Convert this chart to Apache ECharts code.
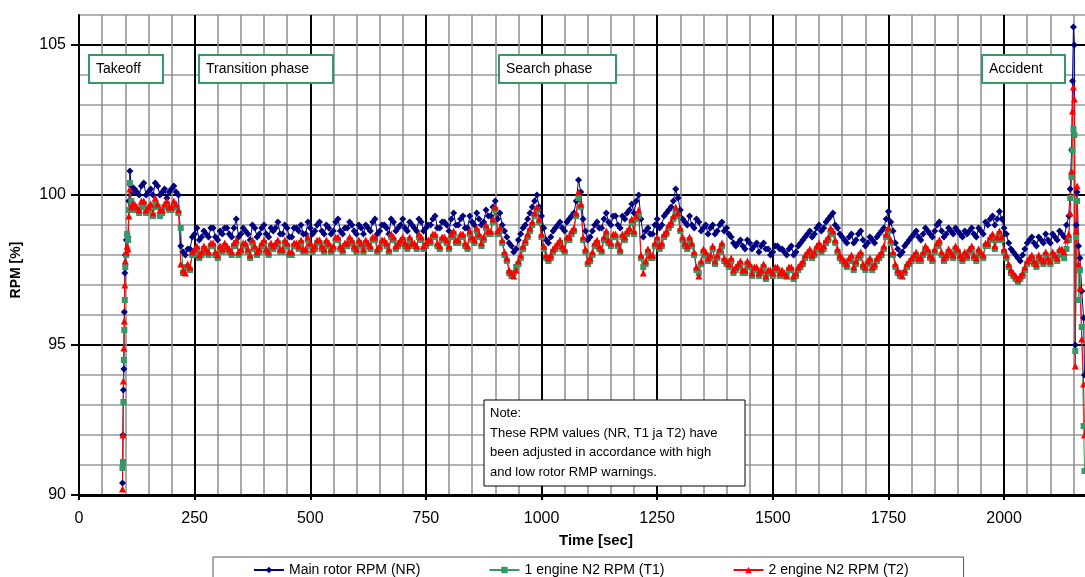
<!DOCTYPE html>
<html>
<head>
<meta charset="utf-8">
<script src="https://cdn.jsdelivr.net/npm/echarts@6/dist/echarts.min.js"></script>
<style>
  html, body { margin: 0; padding: 0; background: #fff; }
  #chart { width: 1085px; height: 577px; }
</style>
</head>
<body>
<div id="chart"></div>
<script>
// sample times [sec]
var times = [
  94, 95, 96, 97, 98, 99, 100, 102, 104, 106, 108, 110, 113, 116,
  120, 130, 140, 150, 160, 170, 180, 190, 200, 210,
  220, 230, 240, 250, 260, 270, 280, 290, 300, 310,
  320, 330, 340, 350, 360, 370, 380, 390, 400, 410,
  420, 430, 440, 450, 460, 470, 480, 490, 500, 510,
  520, 530, 540, 550, 560, 570, 580, 590, 600, 610,
  620, 630, 640, 650, 660, 670, 680, 690, 700, 710,
  720, 730, 740, 750, 760, 770, 780, 790, 800, 810,
  820, 830, 840, 850, 860, 870, 880, 890, 900, 910,
  920, 930, 940, 950, 960, 970, 980, 990, 1000, 1010,
  1020, 1030, 1040, 1050, 1060, 1070, 1080, 1090, 1100, 1110,
  1120, 1130, 1140, 1150, 1160, 1170, 1180, 1190, 1200, 1210,
  1220, 1230, 1240, 1250, 1260, 1270, 1280, 1290, 1300, 1310,
  1320, 1330, 1340, 1350, 1360, 1370, 1380, 1390, 1400, 1410,
  1420, 1430, 1440, 1450, 1460, 1470, 1480, 1490, 1500, 1510,
  1520, 1530, 1540, 1550, 1560, 1570, 1580, 1590, 1600, 1610,
  1620, 1630, 1640, 1650, 1660, 1670, 1680, 1690, 1700, 1710,
  1720, 1730, 1740, 1750, 1760, 1770, 1780, 1790, 1800, 1810,
  1820, 1830, 1840, 1850, 1860, 1870, 1880, 1890, 1900, 1910,
  1920, 1930, 1940, 1950, 1960, 1970, 1980, 1990, 2000, 2010,
  2020, 2030, 2040, 2050, 2060, 2070, 2080, 2090, 2100, 2110,
  2120, 2130,
  2135, 2140, 2143, 2146, 2148, 2150, 2152, 2154, 2156, 2158, 2161, 2164, 2168, 2172, 2174
];

// Main rotor RPM (NR)
var rpmNR = [
  90.4, 92.0, 93.5, 94.2, 96.1, 97.4, 98.0, 98.5, 98.7, 98.6, 99.8, 100.8, 100.3, 100.1,
  100.2, 100.0, 100.4, 100.1, 100.0, 100.3, 100.1, 99.9, 100.2, 100.1,
  98.3, 98.0, 98.2, 98.7, 98.5, 98.8, 98.6, 98.9, 98.5, 98.7,
  98.9, 98.6, 99.2, 98.7, 98.8, 98.5, 98.9, 98.7, 99.0, 98.6,
  98.8, 99.1, 98.7, 98.9, 98.6, 98.9, 99.0, 98.7, 98.9, 98.8,
  99.1, 98.7, 98.9, 98.8, 99.2, 98.7, 98.9, 99.0, 98.7, 98.9,
  99.0, 98.8, 99.2, 98.8, 99.0, 98.7, 99.1, 98.9, 99.2, 98.8,
  99.0, 98.8, 99.1, 98.9, 99.0, 99.3, 98.9, 99.1, 98.8, 99.4,
  99.0, 99.3, 98.9, 99.1, 99.4, 99.0, 99.5, 99.3, 99.8, 99.4,
  98.8, 98.4, 98.1, 98.5, 98.9, 99.2, 99.6, 100.0, 99.3, 98.5,
  98.6, 98.9, 99.1, 98.8, 99.2, 99.4, 100.5, 99.2, 98.5, 98.8,
  99.1, 98.9, 99.4, 99.0, 99.3, 98.9, 99.2, 99.5, 99.4, 100.0,
  98.6, 98.9, 98.7, 99.2, 99.0, 99.4, 99.6, 100.2, 99.5, 99.1,
  99.3, 98.9, 99.1, 98.9, 98.7, 99.0, 98.8, 99.1, 98.9, 98.6,
  98.3, 98.5, 98.2, 98.4, 98.3, 98.1, 98.4, 98.2, 98.1, 98.3,
  98.2, 98.0, 98.3, 98.1, 98.4, 98.6, 98.8, 98.7, 99.0, 98.9,
  99.2, 99.4, 98.9, 98.6, 98.4, 98.7, 98.5, 98.8, 98.3, 98.6,
  98.4, 98.7, 98.9, 99.45, 98.8, 98.2, 98.1, 98.4, 98.6, 98.8,
  98.5, 98.9, 98.7, 98.8, 99.1, 98.6, 98.9, 98.7, 98.8, 98.6,
  98.7, 98.9, 98.6, 98.8, 99.1, 99.2, 99.0, 99.45, 98.9, 98.4,
  98.1, 97.9, 98.0, 98.4, 98.6, 98.3, 98.5, 98.7, 98.4, 98.6,
  98.8, 98.6,
  99.0, 99.3, 100.2, 101.5, 103.8, 105.6, 105.0, 95.0, 99.0, 100.1, 98.3, 97.9, 96.8, 95.9, 94.0
];

// 1 engine N2 RPM (T1)
var rpmT1 = [
  90.9, 91.1, 93.1, 94.5, 95.5, 96.5, 97.6, 98.0, 98.7, 98.5, 99.5, 100.4, 99.8, 99.5,
  99.6, 99.4, 99.7, 99.5, 99.3, 99.6, 99.4, 99.7, 99.5, 99.6,
  98.9, 97.6, 97.5, 98.0, 97.9, 98.2, 98.0, 98.3, 97.9, 98.1,
  98.2, 98.0, 98.4, 98.1, 98.3, 97.9, 98.2, 98.1, 98.4, 98.0,
  98.2, 98.4, 98.1, 98.3, 98.0, 98.3, 98.4, 98.1, 98.3, 98.2,
  98.4, 98.1, 98.3, 98.2, 98.5, 98.1, 98.3, 98.4, 98.1, 98.3,
  98.4, 98.2, 98.5, 98.2, 98.4, 98.1, 98.5, 98.3, 98.5, 98.2,
  98.3, 98.2, 98.5, 98.3, 98.4, 98.6, 98.2, 98.5, 98.2, 98.7,
  98.4, 98.6, 98.2, 98.5, 98.8, 98.3, 98.9, 98.7, 99.5, 98.8,
  98.0, 97.4, 97.4, 97.7, 98.2, 98.6, 99.0, 99.5, 98.6, 97.9,
  97.9, 98.2, 98.4, 98.1, 98.5, 98.8, 99.9, 98.5, 97.7, 98.0,
  98.4, 98.1, 98.7, 98.3, 98.6, 98.1, 98.5, 98.8, 98.7, 99.3,
  97.6, 98.1, 97.9, 98.5, 98.3, 98.7, 99.0, 99.4, 98.8, 98.3,
  98.5, 98.0, 97.4, 98.1, 97.8, 98.2, 97.9, 98.3, 97.7, 97.8,
  97.5, 97.7, 97.4, 97.6, 97.5, 97.3, 97.6, 97.4, 97.3, 97.5,
  97.4, 97.3, 97.5, 97.3, 97.6, 97.9, 98.1, 98.0, 98.3, 98.2,
  98.5, 98.7, 98.1, 97.8, 97.6, 97.9, 97.7, 98.0, 97.5, 97.8,
  97.6, 97.9, 98.2, 98.8, 98.0, 97.4, 97.4, 97.6, 97.8, 98.0,
  97.8, 98.2, 97.9, 98.1, 98.4, 97.8, 98.1, 97.9, 98.1, 97.8,
  97.9, 98.2, 97.8, 98.0, 98.3, 98.5, 98.2, 98.7, 98.1, 97.6,
  97.3, 97.1, 97.3, 97.7, 97.9, 97.6, 97.8, 98.0, 97.7, 97.9,
  98.1, 97.9,
  98.2, 98.5, 99.9, 100.6, 101.5, 102.2, 102.0, 94.8, 98.6, 99.8, 96.5, 97.5, 95.6, 92.3, 90.8
];

// 2 engine N2 RPM (T2)
var rpmT2 = [
  90.2, 92.0, 93.8, 94.9, 95.8, 97.0, 97.8, 98.1, 98.3, 98.2, 99.3, 100.2, 99.6, 99.7,
  99.7, 99.5, 99.8, 99.6, 99.4, 99.7, 99.5, 99.8, 99.6, 99.7,
  97.7, 97.4, 97.6, 98.2, 98.0, 98.3, 98.1, 98.4, 98.0, 98.2,
  98.3, 98.1, 98.5, 98.2, 98.4, 98.0, 98.3, 98.2, 98.5, 98.1,
  98.3, 98.5, 98.2, 98.4, 98.1, 98.4, 98.5, 98.2, 98.4, 98.3,
  98.5, 98.2, 98.4, 98.3, 98.6, 98.2, 98.4, 98.5, 98.2, 98.4,
  98.5, 98.3, 98.6, 98.3, 98.5, 98.2, 98.6, 98.4, 98.6, 98.3,
  98.4, 98.3, 98.6, 98.4, 98.5, 98.7, 98.3, 98.6, 98.3, 98.8,
  98.5, 98.7, 98.3, 98.6, 98.9, 98.4, 99.0, 98.8, 99.6, 98.9,
  98.1, 97.5, 97.3, 97.8, 98.3, 98.7, 99.1, 99.6, 98.7, 98.0,
  98.0, 98.3, 98.5, 98.2, 98.6, 98.9, 100.1, 98.6, 97.8, 98.1,
  98.5, 98.2, 98.8, 98.4, 98.7, 98.2, 98.6, 98.9, 98.8, 99.5,
  97.4, 98.2, 98.0, 98.6, 98.4, 98.8, 99.1, 99.6, 98.9, 98.4,
  98.6, 98.1, 97.3, 98.2, 97.9, 98.3, 98.0, 98.4, 97.8, 97.9,
  97.6, 97.8, 97.5, 97.7, 97.6, 97.4, 97.7, 97.5, 97.4, 97.6,
  97.5, 97.3, 97.6, 97.4, 97.7, 98.0, 98.2, 98.1, 98.4, 98.3,
  98.6, 98.8, 98.2, 97.9, 97.7, 98.0, 97.8, 98.1, 97.6, 97.9,
  97.7, 98.0, 98.3, 98.9, 98.1, 97.5, 97.3, 97.7, 97.9, 98.1,
  97.9, 98.3, 98.0, 98.2, 98.5, 97.9, 98.2, 98.0, 98.2, 97.9,
  98.0, 98.3, 97.9, 98.1, 98.4, 98.6, 98.3, 98.8, 98.2, 97.7,
  97.4, 97.2, 97.4, 97.8, 98.0, 97.7, 97.9, 98.1, 97.8, 98.0,
  98.2, 98.1,
  98.5, 98.7, 99.4, 100.8, 102.8, 103.6, 103.2, 94.3, 98.8, 100.3, 97.7, 96.9, 95.2, 93.7, 92.0
];

// in-between samples, 5 s after each regular one
var midTimes = [
  125, 135, 145, 155, 165, 175, 185, 195, 205, 215,
  225, 235, 245, 255, 265, 275, 285, 295, 305, 315,
  325, 335, 345, 355, 365, 375, 385, 395, 405, 415,
  425, 435, 445, 455, 465, 475, 485, 495, 505, 515,
  525, 535, 545, 555, 565, 575, 585, 595, 605, 615,
  625, 635, 645, 655, 665, 675, 685, 695, 705, 715,
  725, 735, 745, 755, 765, 775, 785, 795, 805, 815,
  825, 835, 845, 855, 865, 875, 885, 895, 905, 915,
  925, 935, 945, 955, 965, 975, 985, 995, 1005, 1015,
  1025, 1035, 1045, 1055, 1065, 1075, 1085, 1095, 1105, 1115,
  1125, 1135, 1145, 1155, 1165, 1175, 1185, 1195, 1205, 1215,
  1225, 1235, 1245, 1255, 1265, 1275, 1285, 1295, 1305, 1315,
  1325, 1335, 1345, 1355, 1365, 1375, 1385, 1395, 1405, 1415,
  1425, 1435, 1445, 1455, 1465, 1475, 1485, 1495, 1505, 1515,
  1525, 1535, 1545, 1555, 1565, 1575, 1585, 1595, 1605, 1615,
  1625, 1635, 1645, 1655, 1665, 1675, 1685, 1695, 1705, 1715,
  1725, 1735, 1745, 1755, 1765, 1775, 1785, 1795, 1805, 1815,
  1825, 1835, 1845, 1855, 1865, 1875, 1885, 1895, 1905, 1915,
  1925, 1935, 1945, 1955, 1965, 1975, 1985, 1995, 2005, 2015,
  2025, 2035, 2045, 2055, 2065, 2075, 2085, 2095, 2105, 2115,
  2125
];

var midNR = [
  100.1, 100.3, 100.0, 100.2, 100.4, 100.0, 100.2, 100.1, 100.3, 100.0,
  98.1, 98.2, 98.6, 98.9, 98.6, 98.7, 98.9, 98.6, 98.8, 98.9,
  98.7, 98.9, 98.6, 98.9, 98.7, 99.0, 98.6, 98.9, 98.7, 98.9,
  98.9, 98.7, 99.0, 98.6, 98.9, 98.8, 98.7, 99.1, 98.7, 99.0,
  98.8, 99.0, 98.7, 99.1, 98.8, 98.9, 99.1, 98.8, 99.0, 98.7,
  98.9, 99.1, 98.7, 99.0, 98.9, 99.2, 98.8, 99.0, 98.9, 99.1,
  98.9, 99.2, 98.8, 99.0, 99.2, 98.9, 99.1, 99.0, 99.2, 99.0,
  99.2, 98.9, 99.3, 99.0, 99.2, 99.1, 99.3, 99.6, 99.2, 99.0,
  98.6, 98.3, 98.2, 98.7, 99.0, 99.4, 99.8, 99.6, 98.9, 98.4,
  98.8, 99.0, 98.9, 99.1, 99.3, 99.8, 100.1, 98.8, 98.6, 99.0,
  98.9, 99.2, 99.1, 99.3, 99.0, 99.3, 99.4, 99.7, 99.8, 99.2,
  98.8, 98.7, 99.0, 98.9, 99.3, 99.5, 99.8, 99.9, 99.2, 99.0,
  99.0, 99.2, 98.8, 99.0, 98.9, 98.7, 99.0, 98.8, 98.7, 98.4,
  98.4, 98.3, 98.5, 98.2, 98.4, 98.3, 98.2, 98.0, 98.3, 98.2,
  98.1, 98.2, 98.0, 98.3, 98.5, 98.7, 98.6, 98.9, 98.8, 99.1,
  99.3, 99.0, 98.7, 98.5, 98.6, 98.4, 98.7, 98.5, 98.4, 98.5,
  98.6, 98.8, 99.2, 99.1, 98.4, 98.0, 98.3, 98.5, 98.7, 98.6,
  98.7, 98.8, 98.6, 99.0, 98.8, 98.7, 98.8, 98.9, 98.7, 98.8,
  98.8, 98.7, 98.9, 98.7, 99.0, 99.3, 99.2, 99.2, 98.7, 98.2,
  98.0, 97.8, 98.2, 98.5, 98.4, 98.6, 98.4, 98.5, 98.7, 98.5,
  98.7
];

var midT1 = [
  99.5, 99.6, 99.4, 99.6, 99.7, 99.3, 99.6, 99.5, 99.6, 99.4,
  97.4, 97.6, 98.0, 98.2, 98.0, 98.1, 98.3, 98.0, 98.2, 98.3,
  98.1, 98.3, 98.0, 98.3, 98.1, 98.4, 98.0, 98.3, 98.1, 98.3,
  98.3, 98.1, 98.4, 98.0, 98.3, 98.2, 98.1, 98.5, 98.1, 98.4,
  98.2, 98.4, 98.1, 98.5, 98.2, 98.3, 98.5, 98.2, 98.4, 98.1,
  98.3, 98.5, 98.1, 98.4, 98.3, 98.6, 98.2, 98.4, 98.3, 98.5,
  98.3, 98.6, 98.2, 98.4, 98.6, 98.3, 98.5, 98.4, 98.6, 98.4,
  98.6, 98.3, 98.7, 98.4, 98.6, 98.5, 98.7, 99.1, 98.7, 98.4,
  97.8, 97.3, 97.6, 97.9, 98.4, 98.8, 99.3, 99.1, 98.2, 97.8,
  98.1, 98.3, 98.2, 98.5, 98.7, 99.3, 99.6, 98.1, 97.8, 98.3,
  98.2, 98.5, 98.4, 98.6, 98.3, 98.6, 98.7, 99.1, 99.2, 97.9,
  97.7, 97.9, 98.3, 98.2, 98.6, 98.9, 99.2, 99.3, 98.5, 98.2,
  98.3, 97.5, 97.7, 98.0, 97.9, 97.7, 98.1, 97.8, 97.6, 97.4,
  97.6, 97.4, 97.7, 97.3, 97.5, 97.4, 97.2, 97.4, 97.5, 97.3,
  97.3, 97.5, 97.2, 97.5, 97.7, 98.0, 97.9, 98.2, 98.1, 98.4,
  98.8, 98.4, 97.9, 97.7, 97.8, 97.5, 97.9, 97.6, 97.7, 97.5,
  97.8, 98.0, 98.6, 98.4, 97.6, 97.3, 97.4, 97.7, 97.9, 97.8,
  98.0, 98.1, 97.8, 98.3, 98.0, 97.9, 98.0, 98.2, 97.9, 98.0,
  98.1, 97.9, 98.1, 97.9, 98.3, 98.6, 98.5, 98.5, 97.9, 97.4,
  97.2, 97.2, 97.5, 97.8, 97.7, 97.9, 97.7, 97.8, 98.0, 97.8,
  98.0
];

var midT2 = [
  99.6, 99.8, 99.5, 99.7, 99.9, 99.5, 99.7, 99.6, 99.8, 99.5,
  97.5, 97.7, 98.1, 98.3, 98.1, 98.2, 98.4, 98.1, 98.3, 98.4,
  98.2, 98.4, 98.1, 98.4, 98.2, 98.5, 98.1, 98.4, 98.2, 98.4,
  98.4, 98.2, 98.5, 98.1, 98.4, 98.3, 98.2, 98.6, 98.2, 98.5,
  98.3, 98.5, 98.2, 98.6, 98.3, 98.4, 98.6, 98.3, 98.5, 98.2,
  98.4, 98.6, 98.2, 98.5, 98.4, 98.7, 98.3, 98.5, 98.4, 98.6,
  98.4, 98.7, 98.3, 98.5, 98.7, 98.4, 98.6, 98.5, 98.7, 98.5,
  98.7, 98.4, 98.8, 98.5, 98.7, 98.6, 98.8, 99.2, 98.8, 98.5,
  97.9, 97.4, 97.5, 98.0, 98.5, 98.9, 99.4, 99.2, 98.3, 97.9,
  98.2, 98.4, 98.3, 98.6, 98.8, 99.4, 99.7, 98.2, 97.9, 98.4,
  98.3, 98.6, 98.5, 98.7, 98.4, 98.7, 98.8, 99.2, 99.3, 98.0,
  97.8, 98.0, 98.4, 98.3, 98.7, 99.0, 99.3, 99.4, 98.6, 98.3,
  98.4, 97.6, 97.8, 98.1, 98.0, 97.8, 98.2, 97.9, 97.7, 97.5,
  97.7, 97.5, 97.8, 97.4, 97.6, 97.5, 97.3, 97.5, 97.6, 97.4,
  97.4, 97.6, 97.3, 97.6, 97.8, 98.1, 98.0, 98.3, 98.2, 98.5,
  98.9, 98.5, 98.0, 97.8, 97.9, 97.6, 98.0, 97.7, 97.8, 97.6,
  97.9, 98.1, 98.7, 98.5, 97.7, 97.4, 97.5, 97.8, 98.0, 97.9,
  98.1, 98.2, 97.9, 98.4, 98.1, 98.0, 98.1, 98.3, 98.0, 98.1,
  98.2, 98.0, 98.2, 98.0, 98.4, 98.7, 98.6, 98.6, 98.0, 97.5,
  97.3, 97.3, 97.6, 97.9, 97.8, 98.0, 97.8, 97.9, 98.1, 97.9,
  98.2
];

var seriesNames = ['Main rotor RPM (NR)', '1 engine N2 RPM (T1)', '2 engine N2 RPM (T2)'];
var phaseLabels = ['Takeoff', 'Transition phase', 'Search phase', 'Accident'];
var noteLines = [
  'Note:',
  'These RPM values (NR, T1 ja T2) have',
  'been adjusted in accordance with high',
  'and low rotor RMP warnings.'
];

(function () {
  var navy = '#000080';
  var green = '#339966';
  var red = '#ff0000';
  var font = '"Liberation Sans", Arial, sans-serif';

  // merge regular and in-between samples, ordered by time
  function pairs(vals, mids) {
    var out = [];
    for (var i = 0; i < times.length; i++) out.push([times[i], vals[i]]);
    for (var j = 0; j < midTimes.length; j++) out.push([midTimes[j], mids[j]]);
    out.sort(function (a, b) { return a[0] - b[0]; });
    return out;
  }

  function phaseBox(x, w, label) {
    return [
      { type: 'rect', z: 100, shape: { x: x, y: 55, width: w, height: 28 },
        style: { fill: '#fff', stroke: green, lineWidth: 2 } },
      { type: 'text', z: 101, x: x + 7, y: 69,
        style: { text: label, font: '14px ' + font, fill: '#000', verticalAlign: 'middle' } }
    ];
  }

  var graphics = []
    .concat(phaseBox(89, 74, phaseLabels[0]))
    .concat(phaseBox(199, 134, phaseLabels[1]))
    .concat(phaseBox(499, 117, phaseLabels[2]))
    .concat(phaseBox(982, 83, phaseLabels[3]));

  graphics.push({ type: 'rect', z: 100, shape: { x: 484, y: 400, width: 261, height: 86 },
    style: { fill: '#fff', stroke: '#000', lineWidth: 1 } });
  graphics.push({ type: 'text', z: 101, x: 490, y: 404,
    style: { text: noteLines.join('\n'), font: '13px ' + font, lineHeight: 19.5, fill: '#000' } });

  var chart = echarts.init(document.getElementById('chart'), null, { renderer: 'canvas' });
  chart.setOption({
    animation: false,
    backgroundColor: '#fff',
    color: [navy, green, red],
    grid: { left: 79, right: 0, top: 15, bottom: 82, outerBoundsMode: 'none' },
    legend: {
      left: 213, top: 557,
      padding: [6, 55, 6, 40],
      itemGap: 68, itemWidth: 30, itemHeight: 8,
      borderColor: '#555', borderWidth: 1,
      textStyle: { color: '#000', fontSize: 14, fontFamily: font },
      data: seriesNames
    },
    xAxis: [
      { // minor grid
        type: 'value', position: 'top', min: 0, max: 2175, interval: 50,
        axisLine: { show: false }, axisTick: { show: false }, axisLabel: { show: false },
        splitLine: { show: true, showMaxLine: false, lineStyle: { color: '#8c8c8c', width: 1.5 } }
      },
      {
        type: 'value', position: 'bottom', min: 0, max: 2175, interval: 250,
        name: 'Time [sec]', nameLocation: 'middle', nameGap: 38,
        nameTextStyle: { fontSize: 15, fontWeight: 'bold', color: '#000', fontFamily: font, padding: [0, 0, 0, 28] },
        axisLine: { show: true, onZero: false, lineStyle: { color: '#000', width: 3 } },
        axisTick: { show: true, length: 5, lineStyle: { color: '#000', width: 2 } },
        axisLabel: { color: '#000', fontSize: 16, fontFamily: font, margin: 16, showMaxLabel: false,
          formatter: function (v) { return String(v); } },
        splitLine: { show: true, showMaxLine: false, lineStyle: { color: '#000', width: 2 } }
      }
    ],
    yAxis: [
      {
        type: 'value', position: 'right', min: 90, max: 106, interval: 1,
        axisLine: { show: false }, axisTick: { show: false }, axisLabel: { show: false },
        splitLine: { show: true, lineStyle: { color: '#9a9a9a', width: 1.5 } }
      },
      {
        type: 'value', position: 'left', min: 90, max: 106, interval: 5,
        name: 'RPM [%]', nameLocation: 'middle', nameGap: 56, nameRotate: 90,
        nameTextStyle: { fontSize: 14, fontWeight: 'bold', color: '#000', fontFamily: font, padding: [0, 30, 0, 0] },
        axisLine: { show: true, onZero: false, lineStyle: { color: '#000', width: 2 } },
        axisTick: { show: true, length: 8, lineStyle: { color: '#000', width: 2 } },
        axisLabel: { color: '#000', fontSize: 16, fontFamily: font, margin: 13, showMaxLabel: false },
        splitLine: { show: true, showMaxLine: false, lineStyle: { color: '#000', width: 2 } }
      }
    ],
    series: [
      { name: seriesNames[0], type: 'line', xAxisIndex: 1, yAxisIndex: 1, data: pairs(rpmNR, midNR),
        symbol: 'diamond', symbolSize: 7, lineStyle: { width: 1 } },
      { name: seriesNames[1], type: 'line', xAxisIndex: 1, yAxisIndex: 1, data: pairs(rpmT1, midT1),
        symbol: 'rect', symbolSize: 6, lineStyle: { width: 1 } },
      { name: seriesNames[2], type: 'line', xAxisIndex: 1, yAxisIndex: 1, data: pairs(rpmT2, midT2),
        symbol: 'triangle', symbolSize: 7, lineStyle: { width: 1 } }
    ],
    graphic: graphics
  });
  window.addEventListener('resize', function () { chart.resize(); });
})();
</script>
</body>
</html>
